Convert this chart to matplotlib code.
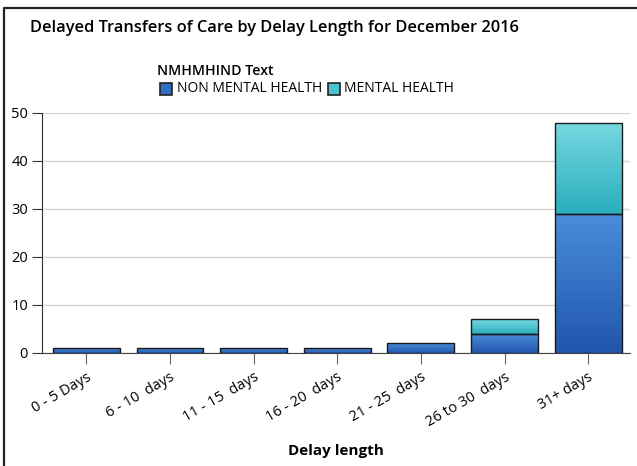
import numpy as np
import matplotlib
matplotlib.use('Agg')
from matplotlib import pyplot as plt
from matplotlib.colors import LinearSegmentedColormap
from matplotlib.patches import Rectangle
from matplotlib.lines import Line2D

categories = ['0 - 5 Days', '6 - 10  days', '11 - 15  days', '16 - 20  days',
              '21 - 25  days', '26 to 30  days', '31+ days']
non_mental = [1, 1, 1, 1, 2, 4, 29]
mental = [0, 0, 0, 0, 0, 3, 19]
series_names = ['NON MENTAL HEALTH', 'MENTAL HEALTH']
yticks = [0, 10, 20, 30, 40, 50]

plt.rcParams['font.family'] = ['Open Sans', 'DejaVu Sans']

W, H = 637, 466
fig = plt.figure(figsize=(W / 100, H / 100), dpi=100)
ax = fig.add_axes([42 / W, 1 - 353 / H, (630 - 42) / W, (353 - 113) / H])

# gradients (top colour, bottom colour)
grad_nm = LinearSegmentedColormap.from_list('nm', ['#2156ad', '#4a8ddb'])
grad_mh = LinearSegmentedColormap.from_list('mh', ['#2aaebd', '#76d9e1'])

x = np.arange(len(categories))
b1 = ax.bar(x, non_mental, 0.8, color='#3a78c9', edgecolor='#1a1a1a', lw=1, zorder=3)
b2 = ax.bar(x, mental, 0.8, bottom=non_mental, color='#4fc3cf', edgecolor='#1a1a1a', lw=1, zorder=3)

grad = np.linspace(0, 1, 100).reshape(-1, 1)
for bars, cmap in ((b1, grad_nm), (b2, grad_mh)):
  for p in bars:
    if p.get_height() == 0:
      p.set_visible(False)
      continue
    x0, y0 = p.get_x(), p.get_y()
    im = ax.imshow(grad, cmap=cmap, origin='lower', aspect='auto',
                   extent=(x0, x0 + p.get_width(), y0, y0 + p.get_height()), zorder=3)
    im.set_clip_path(p)
    p.set_facecolor('none')
    p.set_zorder(4)

ax.set_xlim(-0.53, 6.5)
ax.set_ylim(0, 50)
ax.set_yticks(yticks)
ax.yaxis.grid(True, color='#d4d4d4', lw=1)
ax.set_axisbelow(True)
for s in ['top', 'right']:
  ax.spines[s].set_visible(False)
ax.spines['left'].set_color('#333333')
ax.spines['bottom'].set_color('#444444')
ax.tick_params(axis='y', length=7, color='#333333', labelsize=10.5, pad=3)
ax.tick_params(axis='x', length=8, color='#666666', labelsize=10.5, pad=4)
ax.set_xticks(x)
ax.set_xticklabels(categories, rotation=30, ha='right', rotation_mode='anchor')
ax.set_xlabel('Delay length', fontsize=11, fontweight='bold', labelpad=10)

# title
fig.text(30 / W, 1 - 28 / H, 'Delayed Transfers of Care by Delay Length for December 2016',
         fontsize=11.8, fontweight='semibold', va='center', ha='left')

# legend
fig.text(157 / W, 1 - 71 / H, 'NMHMHIND Text', fontsize=10.2, fontweight='semibold',
         va='center', ha='left')
for lx, tx, name, col in ((160, 177, series_names[0], '#3070c4'),
                          (328, 344, series_names[1], '#4cc4d0')):
  fig.patches.append(Rectangle((lx / W, 1 - 95 / H), 12 / W, 12 / H,
                               transform=fig.transFigure, facecolor=col,
                               edgecolor='#222222', lw=1.2))
  fig.text(tx / W, 1 - 89 / H, name, fontsize=10, va='center', ha='left')

# frame (left + top)
fig.lines.append(Line2D([3.5 / W, 3.5 / W, 1], [0, 1 - 7.5 / H, 1 - 7.5 / H],
                        transform=fig.transFigure, color='#222222', lw=1.6))

fig.savefig('out.png', dpi=100)
